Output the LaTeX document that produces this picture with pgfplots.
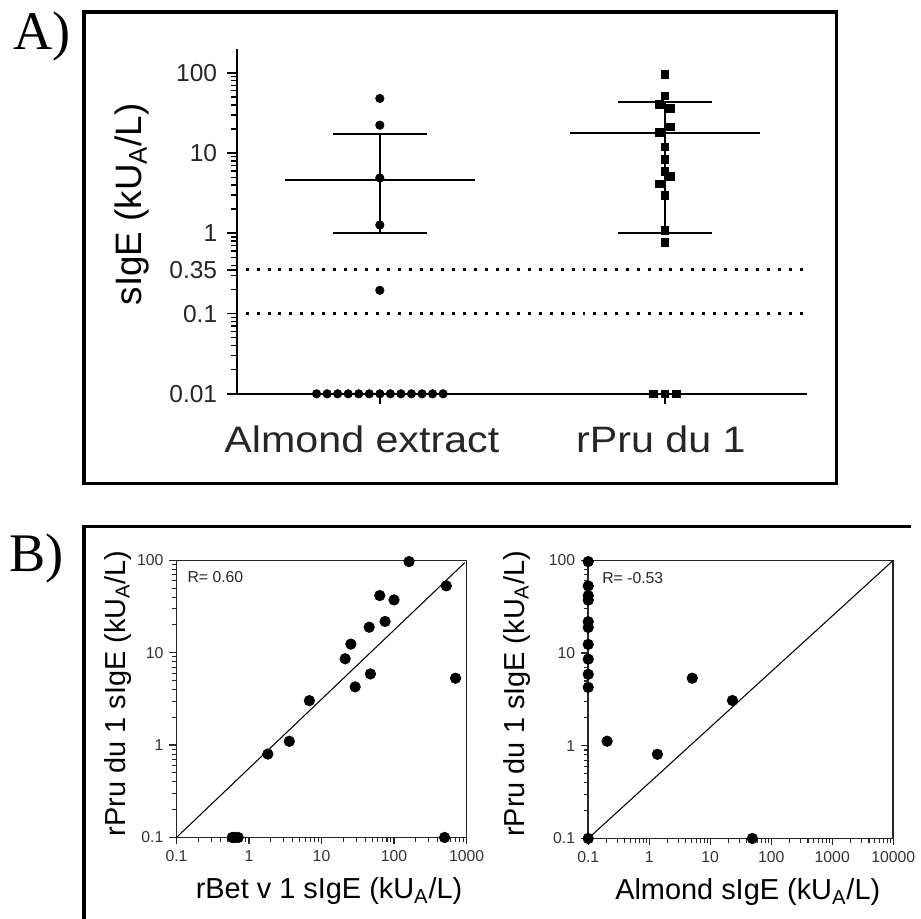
\documentclass[border=0pt]{standalone}
\usepackage{fontspec}
\setmainfont{Liberation Sans}
\newfontfamily\panelfont{Liberation Serif}
\usepackage{graphicx}
\usepackage{pgfplots}
\pgfplotsset{compat=1.18}
\newlength\pxu
\setlength\pxu{0.02cm}

\pgfplotsset{
  scatterB/.style={only marks, mark=*, mark size=3.0pt, black},
  panelB/.style={
    anchor=south west, scale only axis, clip=false,
    ymin=0.1, ymax=100,
    axis line style={black!85, line width=0.9pt},
    tick align=outside, xtick pos=bottom, ytick pos=left,
    major tick length=0.14cm, minor tick length=0.09cm,
    major tick style={black!85, line width=0.7pt},
    minor tick style={black!85, line width=0.6pt},
    log ticks with fixed point,
    /pgf/number format/1000 sep={},
    /pgf/number format/assume math mode=true,
    tick label style={font=\fontsize{9}{10}\selectfont, black!80},
    label style={font=\fontsize{16.5}{18}\selectfont},
    ylabel={rPru du 1 sIgE (kU\textsubscript{A}/L)},
  },
}

\begin{document}
\begin{tikzpicture}
\begin{scope}[x=0.02cm,y=0.02cm]
\useasboundingbox (0,0) rectangle (914,921);
\coordinate (Aorig) at (238,526);
\coordinate (BLorig) at (177,81);
\coordinate (BRorig) at (590,80);
% panel frames
\draw[line width=2pt] (84,909) rectangle (839,436);
\draw[line width=2pt] (84,-10) -- (84,393) -- (914,393);
\node[font=\panelfont\fontsize{31}{31}\selectfont] at (42,884) {A)};
\node[font=\panelfont\fontsize{31}{31}\selectfont] at (37,361) {B)};
\end{scope}

% ---------- A ----------
\begin{axis}[
  at={(Aorig)}, anchor=south west, scale only axis,
  width=11.44cm, height=6.924cm, clip=false,
  ymode=log, xmin=0.5, xmax=2.5, ymin=0.01, ymax=200,
  axis lines*=left, axis line style={line width=1.1pt},
  tick align=outside, major tick length=0.2cm, minor tick length=0.12cm,
  major tick style={black, line width=1pt},
  minor tick style={black, line width=0.8pt},
  xtick={1,2},
  xticklabels={{\makebox[0pt]{\hspace{-36\pxu}\scalebox{1.12}[1]{Almond extract}}},
               {\makebox[0pt]{\hspace{-8\pxu}\scalebox{1.12}[1]{rPru du 1}}}},
  log ticks with fixed point,
  /pgf/number format/assume math mode=true,
  extra y ticks={0.35}, extra y tick labels={0.35},
  yticklabel style={font=\fontsize{14}{16}\selectfont, black!85, xshift=-4\pxu},
  xticklabel style={font=\fontsize{21}{24}\selectfont, black!85, yshift=-16\pxu},
  ylabel={sIgE (kU\textsubscript{A}/L)},
  ylabel style={font=\fontsize{21}{24}\selectfont, at={(axis description cs:-0.185,0.549)}, anchor=center},
]
% cut-off lines
\addplot[black, line width=1.7pt, dash pattern=on 1.7pt off 4.5pt] coordinates {(0.53,0.35) (2.5,0.35)};
\addplot[black, line width=1.7pt, dash pattern=on 1.7pt off 4.5pt] coordinates {(0.53,0.1) (2.5,0.1)};
% mean and SD, almond extract
\addplot[black, line width=1.1pt] coordinates {(0.667,4.57) (1.333,4.57)};
\addplot[black, line width=1.1pt] coordinates {(0.835,17.1) (1.165,17.1)};
\addplot[black, line width=1.1pt] coordinates {(0.835,1.0) (1.165,1.0)};
\addplot[black, line width=1.1pt] coordinates {(1,1.0) (1,17.1)};
% mean and SD, rPru du 1
\addplot[black, line width=1.1pt] coordinates {(1.667,17.7) (2.333,17.7)};
\addplot[black, line width=1.1pt] coordinates {(1.835,43) (2.165,43)};
\addplot[black, line width=1.1pt] coordinates {(1.835,1.0) (2.165,1.0)};
\addplot[black, line width=1.1pt] coordinates {(2,1.0) (2,43)};
% almond extract values
\addplot[only marks, mark=*, mark size=2.4pt, black] coordinates {
  (1,48) (1,22.3) (1,4.9) (1,1.27) (1,0.195)
  (0.778,0.01) (0.815,0.01) (0.852,0.01) (0.889,0.01) (0.926,0.01) (0.963,0.01) (1,0.01)
  (1.037,0.01) (1.074,0.01) (1.111,0.01) (1.148,0.01) (1.185,0.01) (1.222,0.01)};
% rPru du 1 values
\addplot[only marks, mark=square*, mark size=2.2pt, black] coordinates {
  (2,95) (2,51.7) (1.98,40.3) (2.02,36) (2.02,21.3) (1.98,18.1) (2,12) (2,8.4)
  (2,5.9) (2.02,5.1) (1.98,4.15) (2,2.97) (2,1.09) (2,0.78)
  (1.96,0.01) (2,0.01) (2.04,0.01)};
\end{axis}

% ---------- B left ----------
\begin{axis}[panelB, xmode=log, ymode=log,
  at={(BLorig)}, width=5.82cm, height=5.56cm,
  xmin=0.1, xmax=1000,
  xlabel={rBet v 1 sIgE (kU\textsubscript{A}/L)},
  xlabel style={at={(axis description cs:0.526,-0.194)}, anchor=center},
  ylabel style={at={(axis description cs:-0.203,0.52)}, anchor=center},
]
\addplot[black, line width=0.6pt] coordinates {(0.1,0.1) (946,94.5)};
\addplot[scatterB] coordinates {
  (161,97) (525,53) (63.5,41.6) (100,37.3) (75.3,21.8) (45.4,18.9) (25.4,12.4)
  (21.2,8.6) (47.3,5.9) (705,5.3) (29.1,4.27) (6.8,3.03) (3.6,1.1) (1.82,0.8)
  (0.59,0.1) (0.64,0.1) (0.71,0.1) (498,0.1)};
\node[anchor=west, font=\fontsize{9}{10}\selectfont, black!85] at (axis description cs:0.017,0.939) {R= 0.60};
\end{axis}

% ---------- B right ----------
\begin{axis}[panelB, xmode=log, ymode=log,
  at={(BRorig)}, width=6.12cm, height=5.58cm,
  xmin=0.1, xmax=10000,
  xlabel={Almond sIgE (kU\textsubscript{A}/L)},
  xlabel style={at={(axis description cs:0.523,-0.194)}, anchor=center},
  ylabel style={at={(axis description cs:-0.235,0.52)}, anchor=center},
]
\addplot[black, line width=0.6pt] coordinates {(0.1,0.1) (10000,100)};
\addplot[scatterB] coordinates {
  (0.1,97) (0.1,53) (0.1,41.6) (0.1,37.3) (0.1,21.8) (0.1,18.9) (0.1,12.4)
  (0.1,8.6) (0.1,5.9) (0.1,4.27) (0.1,0.1)
  (0.204,1.12) (1.36,0.81) (5.07,5.36) (23.1,3.08) (49,0.1)};
\node[anchor=west, font=\fontsize{9}{10}\selectfont, black!85] at (axis description cs:0.026,0.935) {R= -0.53};
\end{axis}
\end{tikzpicture}
\end{document}
